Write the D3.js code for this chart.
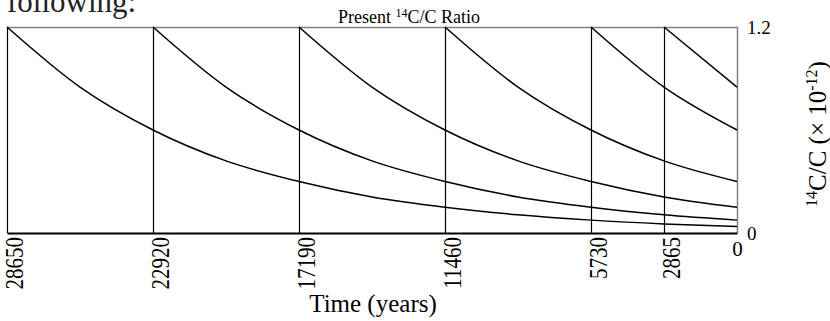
<!DOCTYPE html>
<html>
<head>
<meta charset="utf-8">
<script src="https://cdn.jsdelivr.net/npm/d3@7"></script>
<style>
body{margin:0;background:#fff}
text{font-family:"Liberation Serif","Times New Roman",serif}
</style>
</head>
<body>
<div id="chart"></div>
<script>
// years before present, sampled every 2865 years (half a half-life)
var years=[28650,25785,22920,20055,17190,14325,11460,8595,5730,2865,0]
// 14C/C ratio (x 10^-12)
var from28650=[1.2,0.85,0.6,0.42,0.3,0.21,0.15,0.106,0.075,0.053,0.038]
var from22920=[null,null,1.2,0.85,0.6,0.42,0.3,0.21,0.15,0.106,0.075]
var from17190=[null,null,null,null,1.2,0.85,0.6,0.42,0.3,0.21,0.15]
var from11460=[null,null,null,null,null,null,1.2,0.85,0.6,0.42,0.3]
var from5730=[null,null,null,null,null,null,null,null,1.2,0.85,0.6]
var from2865=[null,null,null,null,null,null,null,null,null,1.2,0.85]
var xTicks=[28650,22920,17190,11460,5730,2865,0]
var yTicks=[0,1.2]

var width=830,height=321
var m={left:7,right:737,top:27,bottom:233}

var svg=d3.select("#chart").append("svg")
	.attr("width",width)
	.attr("height",height)

var x=d3.scaleLinear().domain([28650,0]).range([m.left,m.right])
var y=d3.scaleLinear().domain([0,1.2]).range([m.bottom,m.top])

// text cut off above the figure
svg.append("text")
	.attr("x",7)
	.attr("y",12)
	.attr("font-size","31px")
	.attr("fill","#222")
	.text("following:")

// frame top and right (grey)
svg.append("path")
	.attr("d","M"+m.left+","+(m.top+0.5)+"H"+(m.right+0.5)+"V"+m.bottom)
	.attr("fill","none")
	.attr("stroke","#808080")
	.attr("stroke-width",1.5)

// vertical lines at each start time
svg.selectAll(".vline")
	.data(xTicks.filter(function(d){return d>0}))
	.enter()
	.append("line")
	   .attr("class","vline")
	   .attr("x1",function(d){return x(d)+0.5})
	   .attr("x2",function(d){return x(d)+0.5})
	   .attr("y1",m.top)
	   .attr("y2",m.bottom)
	   .attr("stroke","#000")
	   .attr("stroke-width",1.2)

var series=[from28650,from22920,from17190,from11460,from5730,from2865]
var line=d3.line()
	.defined(function(d){return d!=null})
	.x(function(d,i){return x(years[i])})
	.y(function(d){return y(d)})
	.curve(d3.curveMonotoneX)

svg.selectAll(".decay")
	.data(series)
	.enter()
	.append("path")
	   .attr("class","decay")
	   .attr("d",line)
	   .attr("fill","none")
	   .attr("stroke","#000")
	   .attr("stroke-width",1.5)

// bottom axis
var xAxis=svg.append("g")
	.attr("transform","translate(0,"+m.bottom+")")
	.call(d3.axisBottom(x).tickValues(xTicks).tickSize(0).tickFormat(d3.format("d")))
xAxis.select(".domain").attr("stroke","#000").attr("stroke-width",2)
xAxis.selectAll("text")
	.attr("font-size","21px")
	.attr("fill","#000")
	.attr("dy",null)
	.attr("y",0)
	.attr("transform",function(d){
		if(d==0)return "translate(0,23)"
		return "translate(15,4) rotate(-90) scale(1,1.15)"
	})
	.attr("text-anchor",function(d){return d==0?"middle":"end"})

// right axis
var yAxis=svg.append("g")
	.attr("transform","translate("+m.right+",0)")
	.call(d3.axisRight(y).tickValues(yTicks).tickSize(0).tickPadding(10).tickFormat(function(d){return d==0?"0":"1.2"}))
yAxis.select(".domain").remove()
yAxis.selectAll("text")
	.attr("font-size","19px")
	.attr("fill","#000")

// title
var title=svg.append("text")
	.attr("x",338)
	.attr("y",23)
	.attr("font-size","18px")
title.append("tspan").text("Present ")
title.append("tspan").attr("font-size","12px").attr("dy",-6).text("14")
title.append("tspan").attr("dy",6).text("C/C Ratio")

// x axis title
svg.append("text")
	.attr("x",373)
	.attr("y",312)
	.attr("text-anchor","middle")
	.attr("font-size","25px")
	.text("Time (years)")

// y axis title
var yl=svg.append("text")
	.attr("transform","translate(826,134) rotate(-90)")
	.attr("text-anchor","middle")
	.attr("font-size","25px")
yl.append("tspan").attr("font-size","16px").attr("dy",-9).text("14")
yl.append("tspan").attr("dy",9).text("C/C (\u00d7 10")
yl.append("tspan").attr("font-size","16px").attr("dy",-9).text("-12")
yl.append("tspan").attr("dy",9).text(")")
</script>
</body>
</html>
